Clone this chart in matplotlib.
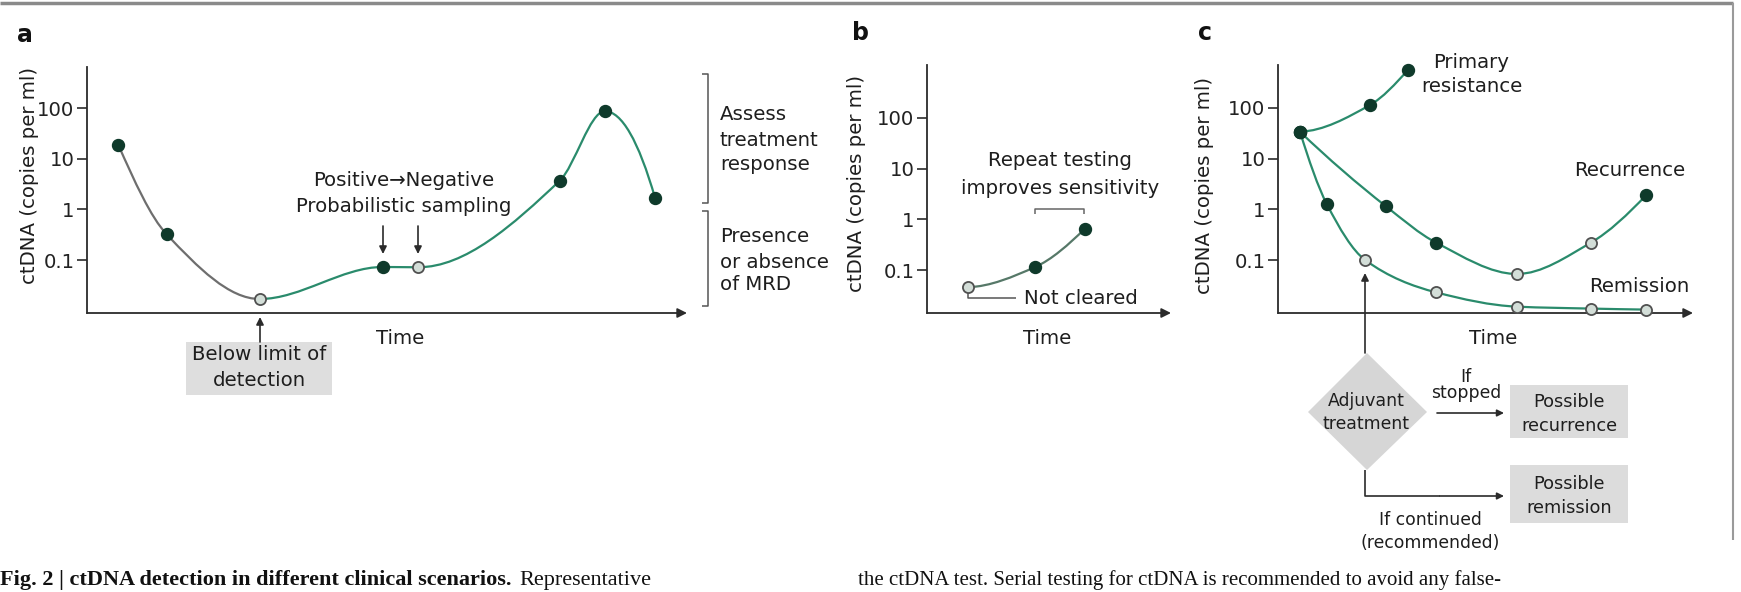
import numpy as np
import matplotlib
matplotlib.use('Agg')
import matplotlib.pyplot as plt
from matplotlib.path import Path
from matplotlib.patches import PathPatch, Polygon, Rectangle

plt.rcParams['font.family'] = ['DejaVu Sans']

# panel a: one patient over time
a_time = [5.2, 13.3, 28.8, 49.3, 55.2, 78.8, 86.3, 94.7]
a_ctdna = [19, 0.32, 0.017, 0.073, 0.072, 3.7, 87, 1.65]
a_detected = [True, True, False, True, False, True, True, True]

# panel b: repeat testing
b_time = [16.8, 44.3, 64.8]
b_ctdna = [0.046, 0.115, 0.66]
b_detected = [False, True, True]

# panel c: three courses from the same start
primary_time = [5.3, 22.2, 31.3]
primary_ctdna = [34, 115, 560]
primary_detected = [True, True, True]

recurrence_time = [5.3, 26.0, 38.1, 57.6, 75.4, 88.7]
recurrence_ctdna = [34, 1.15, 0.22, 0.053, 0.22, 1.9]
recurrence_detected = [True, True, True, False, False, True]

remission_time = [5.3, 11.8, 21.0, 38.1, 57.6, 75.4, 88.7]
remission_ctdna = [34, 1.25, 0.1, 0.023, 0.012, 0.011, 0.0105]
remission_detected = [True, True, False, False, False, False, False]

y_ticks = [0.1, 1, 10, 100]
y_ticklabels = ['0.1', '1', '10', '100']

TEAL = '#2a8b6c'
GRAY_LINE = '#6e6e6e'
DOT = '#0f3a2b'
OPEN_FACE = '#d3ded8'
OPEN_EDGE = '#505050'
AX = '#2b2b2b'
W, H = 1741, 592


def pchip_slopes(x, y):
    h = np.diff(x)
    d = np.diff(y) / h
    n = len(x)
    m = np.zeros(n)
    if n == 2:
        m[:] = d[0]
        return m
    for i in range(1, n - 1):
        if d[i - 1] * d[i] <= 0:
            m[i] = 0
        else:
            w1 = 2 * h[i] + h[i - 1]
            w2 = h[i] + 2 * h[i - 1]
            m[i] = (w1 + w2) / (w1 / d[i - 1] + w2 / d[i])

    def end(h0, h1, d0, d1):
        s = ((2 * h0 + h1) * d0 - h0 * d1) / (h0 + h1)
        if np.sign(s) != np.sign(d0):
            return 0.0
        if np.sign(d0) != np.sign(d1) and abs(s) > 3 * abs(d0):
            return 3 * d0
        return s
    m[0] = end(h[0], h[1], d[0], d[1])
    m[-1] = end(h[-1], h[-2], d[-1], d[-2])
    return m


def bezier_segments(x, y):
    # monotone cubic through the samples, in (time, log ctDNA)
    lx = np.asarray(x, float)
    ly = np.log10(np.asarray(y, float))
    m = pchip_slopes(lx, ly)
    segs = []
    for i in range(len(lx) - 1):
        h = (lx[i + 1] - lx[i]) / 3
        segs.append([(lx[i], ly[i]), (lx[i] + h, ly[i] + m[i] * h),
                     (lx[i + 1] - h, ly[i + 1] - m[i + 1] * h), (lx[i + 1], ly[i + 1])])
    return segs


def draw_curve(ax, segs, color, lw=1.6):
    verts, codes = [], []
    for k, s in enumerate(segs):
        if k == 0:
            verts.append(s[0])
            codes.append(Path.MOVETO)
        verts += s[1:]
        codes += [Path.CURVE4] * 3
    verts = [(vx, 10 ** vy) for vx, vy in verts]
    ax.add_patch(PathPatch(Path(verts, codes), fill=False, edgecolor=color,
                           lw=lw, clip_on=False, zorder=2))


def draw_points(ax, x, y, detected):
    for xi, yi, d in zip(x, y, detected):
        if d:
            ax.plot(xi, yi, 'o', ms=8.6, mfc=DOT, mec=DOT, clip_on=False, zorder=4)
        else:
            ax.plot(xi, yi, 'o', ms=8.0, mfc=OPEN_FACE, mec=OPEN_EDGE, mew=1.3,
                    clip_on=False, zorder=4)


def make_axes(x0, x1, ytop, ybot, ylim):
    ax = fig.add_axes([x0 / W, (H - ybot) / H, (x1 - x0) / W, (ybot - ytop) / H])
    ax.set_facecolor('none')
    ax.set_yscale('log')
    ax.set_xlim(0, 100)
    ax.set_ylim(*ylim)
    ax.set_yticks(y_ticks)
    ax.set_yticklabels(y_ticklabels)
    ax.minorticks_off()
    ax.set_xticks([])
    for s in ['top', 'right', 'bottom']:
        ax.spines[s].set_visible(False)
    ax.spines['left'].set_color(AX)
    ax.spines['left'].set_linewidth(1.3)
    ax.tick_params(axis='y', length=7, width=1.2, color=AX, labelsize=14.2,
                   pad=2, labelcolor='#222222')
    ax.annotate('', xy=(1, 0), xytext=(0, 0), xycoords='axes fraction',
                arrowprops=dict(arrowstyle='-|>', color=AX, lw=1.3,
                                mutation_scale=14, shrinkA=0, shrinkB=0))
    return ax


fig = plt.figure(figsize=(W / 100, H / 100), dpi=100)

# overlay in pixel coordinates for labels and diagram parts
ov = fig.add_axes([0, 0, 1, 1])
ov.set_xlim(0, W)
ov.set_ylim(H, 0)
ov.axis('off')

ax_a = make_axes(87, 687, 67, 313, (0.009, 650))
ax_b = make_axes(927, 1171, 65, 313, (0.0143, 1100))
ax_c = make_axes(1278, 1693, 65, 313, (0.009, 705))

# panel a curve: grey until the undetected sample, teal afterwards
segs = bezier_segments(a_time, a_ctdna)
draw_curve(ax_a, segs[:2], GRAY_LINE)
draw_curve(ax_a, segs[2:], TEAL)
draw_points(ax_a, a_time, a_ctdna, a_detected)

draw_curve(ax_b, bezier_segments(b_time, b_ctdna), '#567868')
draw_points(ax_b, b_time, b_ctdna, b_detected)

courses = [(primary_time, primary_ctdna, primary_detected),
           (recurrence_time, recurrence_ctdna, recurrence_detected),
           (remission_time, remission_ctdna, remission_detected)]
for t, v, d in courses:
    draw_curve(ax_c, bezier_segments(t, v), TEAL)
for t, v, d in courses:
    draw_points(ax_c, t, v, d)

TXT = '#1e1e1e'
fs = 14.2
small = 12.4


def arrow(x0, y0, x1, y1, ms=11):
    ov.annotate('', xy=(x1, y1), xytext=(x0, y0),
                arrowprops=dict(arrowstyle='-|>', color=AX, lw=1.2,
                                mutation_scale=ms, shrinkA=0, shrinkB=0))


def line(xs, ys, lw=1.2, color=AX):
    ov.plot(xs, ys, color=color, lw=lw, solid_capstyle='butt')


# frame
line([0, 1733], [3, 3], lw=2.5, color='#8a8a8a')
line([1733, 1733], [3, 540], lw=1.5, color='#9a9a9a')

# panel letters
ov.text(17, 35, 'a', fontsize=17, fontweight='bold', va='center', ha='left', color='#111')
ov.text(861, 33, 'b', fontsize=17, fontweight='bold', va='center', ha='center', color='#111')
ov.text(1205, 33, 'c', fontsize=17, fontweight='bold', va='center', ha='center', color='#111')

# y labels
ylab = 'ctDNA (copies per ml)'
ov.text(30, 175, ylab, rotation=90, fontsize=fs, ha='center', va='center', color=TXT)
ov.text(856, 183, ylab, rotation=90, fontsize=fs, ha='center', va='center', color=TXT)
ov.text(1205, 185, ylab, rotation=90, fontsize=fs, ha='center', va='center', color=TXT)

for x in [400, 1047, 1493]:
    ov.text(x, 338, 'Time', fontsize=fs, ha='center', va='center', color=TXT)

# panel a annotations
ov.text(404, 180, 'Positive\u2192Negative', fontsize=fs, ha='center', va='center', color=TXT)
ov.text(404, 206, 'Probabilistic sampling', fontsize=fs, ha='center', va='center', color=TXT)
arrow(383, 226, 383, 254)
arrow(418, 226, 418, 254)
ov.add_patch(Rectangle((186, 342), 146, 53, facecolor='#dedede', edgecolor='none'))
ov.text(259, 355, 'Below limit of', fontsize=fs, ha='center', va='center', color=TXT)
ov.text(259, 381, 'detection', fontsize=fs, ha='center', va='center', color=TXT)
arrow(260, 342, 260, 317)

# brackets right of panel a
for y0, y1 in [(74, 203), (211, 306)]:
    line([702, 708, 708, 702], [y0, y0, y1, y1], lw=1.1, color='#555')
for y, s in [(115, 'Assess'), (140, 'treatment'), (164, 'response'),
             (237, 'Presence'), (262, 'or absence'), (285, 'of MRD')]:
    ov.text(720, y, s, fontsize=fs, ha='left', va='center', color=TXT)

# panel b annotations
ov.text(1060, 160, 'Repeat testing', fontsize=fs, ha='center', va='center', color=TXT)
ov.text(1060, 188, 'improves sensitivity', fontsize=fs, ha='center', va='center', color=TXT)
line([1035, 1035, 1084, 1084], [214, 209, 209, 214], lw=1.1, color='#666')
line([968, 968, 1016], [293, 298, 298], lw=1.1, color='#555')
ov.text(1024, 298, 'Not cleared', fontsize=fs, ha='left', va='center', color=TXT)

# panel c labels
ov.text(1471, 62, 'Primary', fontsize=fs, ha='center', va='center', color=TXT)
ov.text(1472, 87, 'resistance', fontsize=fs, ha='center', va='center', color=TXT)
ov.text(1630, 171, 'Recurrence', fontsize=fs, ha='center', va='center', color=TXT)
ov.text(1639, 286, 'Remission', fontsize=fs, ha='center', va='center', color=TXT)

# decision diagram
arrow(1365, 353, 1365, 273)
ov.add_patch(Polygon([(1367, 353), (1427, 412), (1367, 470), (1308, 412)],
                     closed=True, facecolor='#d6d6d6', edgecolor='none'))
ov.text(1366, 401, 'Adjuvant', fontsize=small, ha='center', va='center', color=TXT)
ov.text(1366, 424, 'treatment', fontsize=small, ha='center', va='center', color=TXT)
ov.text(1466, 377, 'If', fontsize=small, ha='center', va='center', color=TXT)
ov.text(1466, 393, 'stopped', fontsize=small, ha='center', va='center', color=TXT)
arrow(1437, 413, 1504, 413, ms=10)
ov.add_patch(Rectangle((1510, 385), 118, 53, facecolor='#dcdcdc', edgecolor='none'))
ov.text(1569, 402, 'Possible', fontsize=12.8, ha='center', va='center', color=TXT)
ov.text(1569, 426, 'recurrence', fontsize=12.8, ha='center', va='center', color=TXT)
line([1365, 1365, 1440], [470, 496, 496])
arrow(1440, 496, 1504, 496, ms=10)
ov.add_patch(Rectangle((1510, 465), 118, 58, facecolor='#dcdcdc', edgecolor='none'))
ov.text(1569, 484, 'Possible', fontsize=12.8, ha='center', va='center', color=TXT)
ov.text(1569, 508, 'remission', fontsize=12.8, ha='center', va='center', color=TXT)
ov.text(1430, 520, 'If continued', fontsize=small, ha='center', va='center', color=TXT)
ov.text(1430, 543, '(recommended)', fontsize=small, ha='center', va='center', color=TXT)

# caption along the bottom edge
cap_font = ['Liberation Serif', 'DejaVu Serif']
cap_y = 585
bold_part = ov.text(0, cap_y, 'Fig. 2 | ctDNA detection in different clinical scenarios.',
                    fontsize=16, fontweight='bold', family=cap_font,
                    ha='left', va='baseline', color='#111')
r = fig.canvas.get_renderer()
bb = bold_part.get_window_extent(renderer=r)
x_end = bb.x1 / fig.dpi * 100
ov.text(x_end + 8, cap_y, 'Representative', fontsize=16, family=cap_font,
        ha='left', va='baseline', color='#111')
ov.text(858, cap_y, 'the ctDNA test. Serial testing for ctDNA is recommended to avoid any false-',
        fontsize=15, family=cap_font, ha='left', va='baseline', color='#111')

fig.savefig('out.png', dpi=100)
